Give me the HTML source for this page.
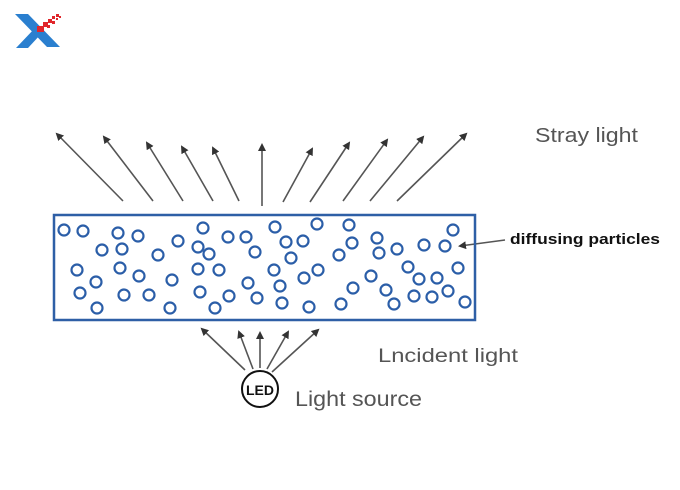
<!DOCTYPE html>
<html><head><style>
body{margin:0;background:#fff;width:680px;height:485px;overflow:hidden;font-family:"Liberation Sans",sans-serif}
</style></head><body>
<svg width="680" height="485" viewBox="0 0 680 485" xmlns="http://www.w3.org/2000/svg">
<defs><marker id="a" markerWidth="8" markerHeight="8" refX="6" refY="4" orient="auto" markerUnits="userSpaceOnUse"><path d="M0,0 L8,4 L0,8 z" fill="#333"/></marker></defs>
<path d="M15,14 L28,14 L60,47 L47,47 Z" fill="#2a7fcf"/>
<path d="M16,48 L28,48 L41,34 L35,28 Z" fill="#2a7fcf"/>
<g fill="#e0262b">
<rect x="37" y="26" width="7" height="6"/><rect x="43" y="22" width="5" height="5"/><rect x="48" y="19" width="4" height="4"/><rect x="52" y="16" width="3" height="3"/><rect x="56" y="14" width="3" height="3"/><rect x="47" y="25" width="3" height="3"/><rect x="52" y="21" width="3" height="3"/><rect x="56" y="18" width="2" height="2"/><rect x="59" y="16" width="2" height="2"/>
</g>
<g stroke="#555" stroke-width="1.6" marker-end="url(#a)">
<line x1="123" y1="201" x2="57" y2="134"/>
<line x1="153" y1="201" x2="104" y2="137"/>
<line x1="183" y1="201" x2="147" y2="143"/>
<line x1="213" y1="201" x2="182" y2="147"/>
<line x1="239" y1="201" x2="213" y2="148"/>
<line x1="262" y1="206" x2="262" y2="145"/>
<line x1="283" y1="202" x2="312" y2="149"/>
<line x1="310" y1="202" x2="349" y2="143"/>
<line x1="343" y1="201" x2="387" y2="140"/>
<line x1="370" y1="201" x2="423" y2="137"/>
<line x1="397" y1="201" x2="466" y2="134"/>
<line x1="245" y1="370" x2="202" y2="329"/>
<line x1="253" y1="369" x2="239" y2="332"/>
<line x1="260" y1="368" x2="260" y2="333"/>
<line x1="267" y1="369" x2="288" y2="332"/>
<line x1="272" y1="372" x2="318" y2="330"/>
<line x1="505" y1="240" x2="460" y2="246"/>
</g>
<rect x="54" y="215" width="421" height="105" fill="none" stroke="#2e5fa6" stroke-width="2.5"/>
<g fill="none" stroke="#2b5ea8" stroke-width="2.2">
<circle cx="64" cy="230" r="5.5"/><circle cx="83" cy="231" r="5.5"/><circle cx="118" cy="233" r="5.5"/><circle cx="138" cy="236" r="5.5"/><circle cx="203" cy="228" r="5.5"/><circle cx="102" cy="250" r="5.5"/><circle cx="122" cy="249" r="5.5"/><circle cx="178" cy="241" r="5.5"/><circle cx="158" cy="255" r="5.5"/><circle cx="198" cy="247" r="5.5"/><circle cx="209" cy="254" r="5.5"/><circle cx="228" cy="237" r="5.5"/><circle cx="246" cy="237" r="5.5"/><circle cx="255" cy="252" r="5.5"/><circle cx="77" cy="270" r="5.5"/><circle cx="120" cy="268" r="5.5"/><circle cx="96" cy="282" r="5.5"/><circle cx="139" cy="276" r="5.5"/><circle cx="172" cy="280" r="5.5"/><circle cx="198" cy="269" r="5.5"/><circle cx="219" cy="270" r="5.5"/><circle cx="80" cy="293" r="5.5"/><circle cx="124" cy="295" r="5.5"/><circle cx="149" cy="295" r="5.5"/><circle cx="200" cy="292" r="5.5"/><circle cx="229" cy="296" r="5.5"/><circle cx="248" cy="283" r="5.5"/><circle cx="257" cy="298" r="5.5"/><circle cx="97" cy="308" r="5.5"/><circle cx="170" cy="308" r="5.5"/><circle cx="215" cy="308" r="5.5"/>
<circle cx="275" cy="227" r="5.5"/><circle cx="317" cy="224" r="5.5"/><circle cx="349" cy="225" r="5.5"/><circle cx="286" cy="242" r="5.5"/><circle cx="303" cy="241" r="5.5"/><circle cx="291" cy="258" r="5.5"/><circle cx="352" cy="243" r="5.5"/><circle cx="339" cy="255" r="5.5"/><circle cx="377" cy="238" r="5.5"/><circle cx="379" cy="253" r="5.5"/><circle cx="397" cy="249" r="5.5"/><circle cx="424" cy="245" r="5.5"/><circle cx="445" cy="246" r="5.5"/><circle cx="453" cy="230" r="5.5"/><circle cx="274" cy="270" r="5.5"/><circle cx="318" cy="270" r="5.5"/><circle cx="304" cy="278" r="5.5"/><circle cx="371" cy="276" r="5.5"/><circle cx="408" cy="267" r="5.5"/><circle cx="419" cy="279" r="5.5"/><circle cx="437" cy="278" r="5.5"/><circle cx="458" cy="268" r="5.5"/><circle cx="280" cy="286" r="5.5"/><circle cx="353" cy="288" r="5.5"/><circle cx="386" cy="290" r="5.5"/><circle cx="282" cy="303" r="5.5"/><circle cx="309" cy="307" r="5.5"/><circle cx="341" cy="304" r="5.5"/><circle cx="394" cy="304" r="5.5"/><circle cx="414" cy="296" r="5.5"/><circle cx="432" cy="297" r="5.5"/><circle cx="448" cy="291" r="5.5"/><circle cx="465" cy="302" r="5.5"/>
</g>
<circle cx="260" cy="389" r="18" fill="#fff" stroke="#111" stroke-width="2"/>
<text x="260" y="395" font-size="14" font-weight="bold" text-anchor="middle" fill="#111">LED</text>
<text x="295" y="406" font-size="21" fill="#555" textLength="127" lengthAdjust="spacingAndGlyphs">Light source</text>
<text x="378" y="362" font-size="19.5" fill="#555" textLength="140" lengthAdjust="spacingAndGlyphs">Lncident light</text>
<text x="535" y="142" font-size="20.5" fill="#555" textLength="103" lengthAdjust="spacingAndGlyphs">Stray light</text>
<text x="510" y="244" font-size="15" font-weight="bold" fill="#111" textLength="150" lengthAdjust="spacingAndGlyphs">diffusing particles</text>
</svg>
</body></html>
